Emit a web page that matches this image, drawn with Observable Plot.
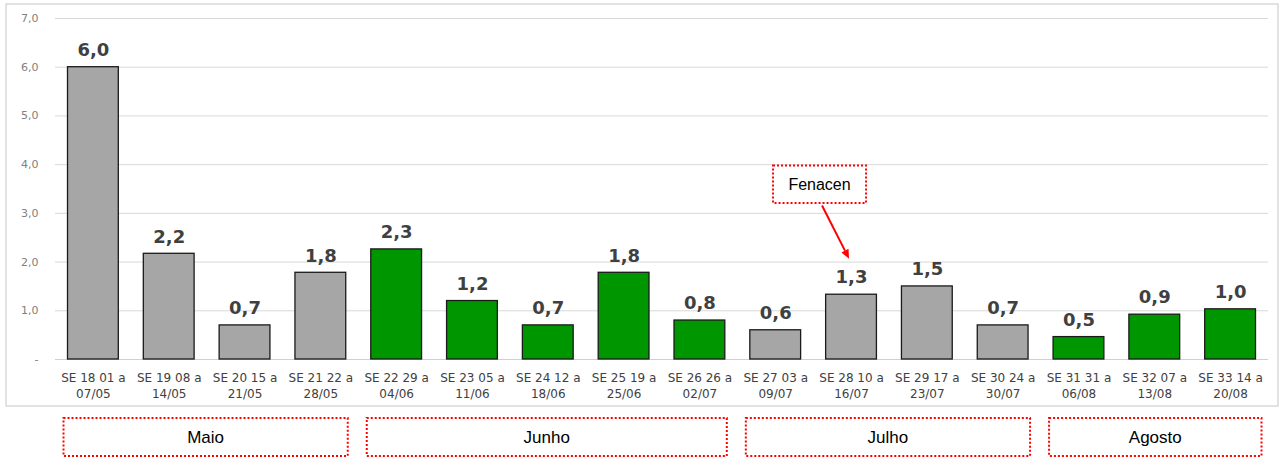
<!DOCTYPE html>
<html>
<head>
<meta charset="utf-8">
<script src="https://cdn.jsdelivr.net/npm/d3@7"></script>
<script src="https://cdn.jsdelivr.net/npm/@observablehq/plot@0.6"></script>
<style>
  html, body { margin: 0; padding: 0; background: #fff; }
</style>
</head>
<body>
<div id="chart"></div>
<script>
// ---- data ----
const semanas = ["SE 18","SE 19","SE 20","SE 21","SE 22","SE 23","SE 24","SE 25","SE 26","SE 27","SE 28","SE 29","SE 30","SE 31","SE 32","SE 33"];
const inicio  = ["01","08","15","22","29","05","12","19","26","03","10","17","24","31","07","14"];
const fim     = ["07/05","14/05","21/05","28/05","04/06","11/06","18/06","25/06","02/07","09/07","16/07","23/07","30/07","06/08","13/08","20/08"];
const valores = [6.0, 2.17, 0.70, 1.78, 2.26, 1.20, 0.70, 1.78, 0.80, 0.60, 1.33, 1.50, 0.70, 0.46, 0.92, 1.03];
const grupo   = ["A","A","A","A","B","B","B","B","B","A","A","A","A","B","B","B"];
const meses      = ["Maio","Junho","Julho","Agosto"];
const mesInicio  = [0, 4, 9, 13];
const mesFim     = [3, 8, 12, 15];
const yTicks = [0,1,2,3,4,5,6,7];
const anotacao = {texto: "Fenacen", semana: "SE 28"};

const categorias = semanas.map((s, i) => `${s} ${inicio[i]} a\n${fim[i]}`);
const data = categorias.map((c, i) => ({cat: c, value: valores[i], grupo: grupo[i]}));
const fmt = v => v.toFixed(1).replace(".", ",");

const W = 1283, H = 470;
const chart = Plot.plot({
  width: W, height: H,
  marginLeft: 55, marginRight: 15, marginTop: 18, marginBottom: 111,
  style: {fontFamily: "DejaVu Sans, Verdana, sans-serif", background: "#fff", overflow: "visible"},
  x: {domain: categorias, paddingInner: 0.33, paddingOuter: 0.165, round: false, label: null},
  y: {domain: [0, 7], label: null},
  color: {domain: ["A","B"], range: ["#a6a6a6", "#009600"]},
  marks: [
    Plot.gridY(yTicks.slice(1), {stroke: "#d9d9d9", strokeOpacity: 1, strokeWidth: 1}),
    Plot.ruleY([0], {stroke: "#d0d0d0", strokeWidth: 1}),
    Plot.axisY(yTicks, {tickSize: 0, tickPadding: 17, fontSize: 11, color: "#808080", label: null,
      tickFormat: d => d === 0 ? "-" : fmt(d)}),
    Plot.axisX({tickSize: 0, tickPadding: 11, fontSize: 12, color: "#404040", lineHeight: 1.35, label: null}),
    Plot.barY(data, {x: "cat", y: "value", fill: "grupo", stroke: "#1a1a1a", strokeWidth: 1.3}),
    Plot.text(data, {x: "cat", y: "value", text: d => fmt(d.value), dy: -17,
      fontSize: 18, fontWeight: "bold", fill: "#404040"})
  ]
});
document.getElementById("chart").appendChild(chart);

// ---- annotations placed through the plot's scales ----
const xs = chart.scale("x"), ys = chart.scale("y");
const bw = xs.bandwidth;
const svg = d3.select(chart);

// outer chart border
svg.insert("rect", ":first-child")
  .attr("x", 6).attr("y", 4).attr("width", 1272).attr("height", 402)
  .attr("fill", "none").attr("stroke", "#d9d9d9").attr("stroke-width", 1.5);

// month boxes
const gm = svg.append("g");
meses.forEach((m, i) => {
  const x1 = xs.apply(categorias[mesInicio[i]]) - 4;
  const x2 = xs.apply(categorias[mesFim[i]]) + bw + (i === meses.length - 1 ? 6 : 2);
  const y1 = H - 52, y2 = H - 14;
  gm.append("rect").attr("x", x1).attr("y", y1).attr("width", x2 - x1).attr("height", y2 - y1)
    .attr("fill", "#fff").attr("stroke", "#ff0000").attr("stroke-width", 2).attr("stroke-dasharray", "2,2");
  gm.append("text").attr("x", (x1 + x2) / 2).attr("y", (y1 + y2) / 2).attr("dy", "0.35em")
    .attr("text-anchor", "middle").attr("font-family", "Liberation Sans, Arial, sans-serif")
    .attr("font-size", 17).attr("fill", "#000").text(m);
});

// Fenacen callout
const ia = semanas.indexOf(anotacao.semana);
const xc = xs.apply(categorias[ia]) + bw / 2;
const ga = svg.append("g");
const bx1 = xc - 78, bx2 = xc + 15, by1 = ys.apply(3.97), by2 = ys.apply(3.20);
ga.append("rect").attr("x", bx1).attr("y", by1).attr("width", bx2 - bx1).attr("height", by2 - by1)
  .attr("fill", "#fff").attr("stroke", "#ff0000").attr("stroke-width", 2).attr("stroke-dasharray", "2,2");
ga.append("text").attr("x", (bx1 + bx2) / 2).attr("y", (by1 + by2) / 2).attr("dy", "0.35em")
  .attr("text-anchor", "middle").attr("font-family", "Liberation Sans, Arial, sans-serif")
  .attr("font-size", 16).attr("fill", "#000").text(anotacao.texto);
const ax1 = xc - 29, ay1 = ys.apply(3.15), ax2 = xc - 2, ay2 = ys.apply(2.06);
const ang = Math.atan2(ay2 - ay1, ax2 - ax1);
const hl = 9, hw = 4;
const bxp = ax2 - Math.cos(ang) * hl, byp = ay2 - Math.sin(ang) * hl;
ga.append("line").attr("x1", ax1).attr("y1", ay1).attr("x2", bxp).attr("y2", byp)
  .attr("stroke", "#ff0000").attr("stroke-width", 2);
ga.append("path")
  .attr("d", `M${ax2},${ay2}L${bxp - Math.sin(ang) * hw},${byp + Math.cos(ang) * hw}L${bxp + Math.sin(ang) * hw},${byp - Math.cos(ang) * hw}Z`)
  .attr("fill", "#ff0000");
</script>
</body>
</html>
